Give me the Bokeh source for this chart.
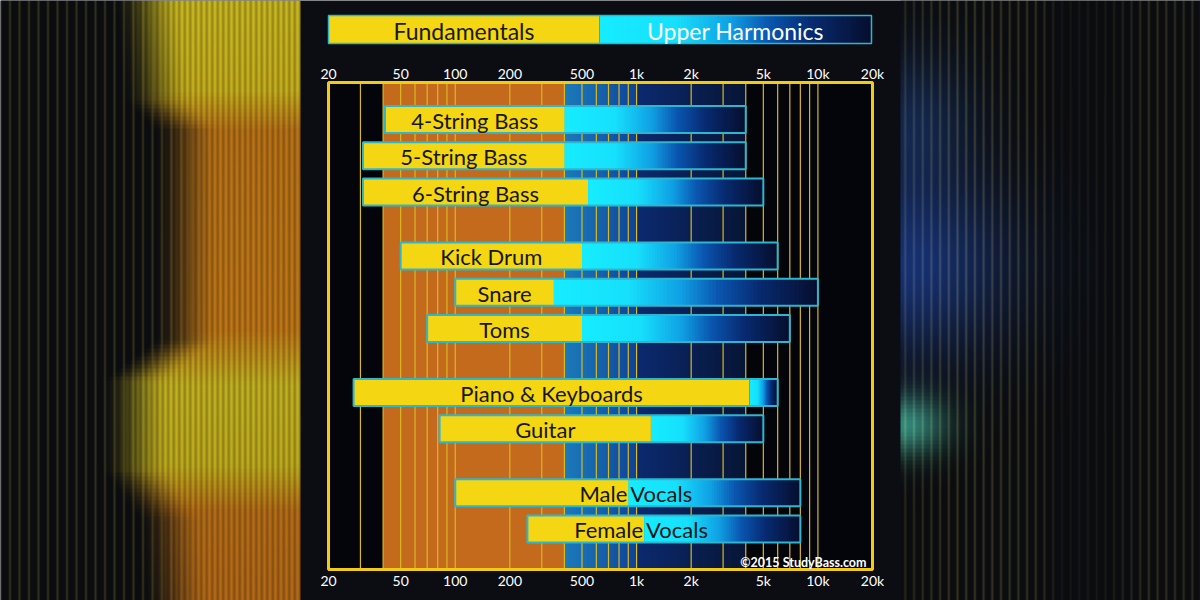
import numpy as np
from bokeh.plotting import figure
from bokeh.models import Range1d, LogScale, ColumnDataSource
from bokeh.core.properties import value
from bokeh.embed import file_html
from bokeh.resources import INLINE

# ---------------- data ----------------
instruments = ["4-String Bass", "5-String Bass", "6-String Bass",
               "Kick Drum", "Snare", "Toms",
               "Piano & Keyboards", "Guitar",
               "Male Vocals", "Female Vocals"]
group_of = [0, 0, 0, 1, 1, 1, 2, 2, 3, 3]
lowest_hz = [41, 31, 31, 50, 100, 70, 27.5, 82, 100, 250]
fundamental_top_hz = [400, 400, 540, 500, 350, 500, 4200, 1200, 900, 1100]
harmonic_top_hz = [4000, 4000, 5000, 6000, 10000, 7000, 6000, 5000, 8000, 8000]
label_at_split = [False] * 8 + [True, True]

tick_hz = [20, 50, 100, 200, 500, 1000, 2000, 5000, 10000, 20000]
tick_labels = ["20", "50", "100", "200", "500", "1k", "2k", "5k", "10k", "20k"]
grid_hz = [30, 40, 50, 60, 70, 80, 90,
           100, 200, 300, 400, 500, 600, 700, 800, 900,
           1000, 2000, 3000, 4000, 5000, 6000, 7000, 8000, 9000, 10000]
fundamental_band_hz = [40, 400]
harmonic_band_hz = [400, 4000]
legend_labels = ["Fundamentals", "Upper Harmonics"]
credit = "\u00a92015 StudyBass.com"

# ---------------- layout (pixel coordinates of the picture) ----------------
W, H = 1200, 600
AX_L, AX_R = 328, 872        # x of 20 Hz and of 20 kHz
AX_T, AX_B = 82, 569         # frame top / bottom
DEC = (AX_R - AX_L) / 3.0
ROW0, SLOT, GAP, BAR_H = 119, 36.3, 0.76, 27
LEG_L, LEG_SPLIT, LEG_R, LEG_T, LEG_B = 328, 599, 871, 15, 43
FONT = value("Lato")

YELLOW = "#f4d612"
CYAN_EDGE = "#2fb6cf"
BG = "#0b0d12"


def hz_at(px):
    return 20 * 10 ** ((px - AX_L) / DEC)


def ramp(t, stops):
    ts = [s[0] for s in stops]
    out = []
    for c in range(3):
        out.append(int(round(np.interp(t, ts, [s[1][c] for s in stops]))))
    return "#%02x%02x%02x" % tuple(out)


HARM_STOPS = [(0.0, (22, 236, 255)), (0.28, (22, 224, 252)), (0.48, (16, 160, 228)),
              (0.62, (10, 86, 176)), (0.78, (8, 42, 112)), (1.0, (6, 14, 44))]
BAND_STOPS = [(0.0, (28, 122, 184)), (0.2, (22, 98, 172)), (0.397, (14, 66, 150)),
              (0.40, (12, 42, 112)), (0.7, (10, 32, 82)), (1.0, (8, 22, 54))]

p = figure(width=W, height=H, x_range=Range1d(0, W), y_range=Range1d(H, 0),
           x_axis_type=None, y_axis_type=None, toolbar_location=None,
           output_backend="svg", min_border=0, background_fill_color=BG,
           border_fill_color=BG, outline_line_color=None)
p.extra_x_ranges = {"hz": Range1d(hz_at(0), hz_at(W))}
p.extra_x_scales = {"hz": LogScale()}


# ---------------- decorative blurred side panels ----------------
def to_rgba(r, g, b):
    h, w = r.shape
    img = np.empty((h, w), dtype=np.uint32)
    v = img.view(dtype=np.uint8).reshape((h, w, 4))
    v[:, :, 0] = np.clip(r, 0, 255)
    v[:, :, 1] = np.clip(g, 0, 255)
    v[:, :, 2] = np.clip(b, 0, 255)
    v[:, :, 3] = 255
    return img


def left_panel():
    w, h = 300, 150
    X, Y = np.meshgrid(np.arange(w) + 0.5, (np.arange(h) + 0.5) * 4)
    yy = [0, 90, 130, 330, 385, 465, 510, 600]
    wr = np.interp(Y, yy, [206, 204, 190, 196, 200, 196, 186, 184])
    wg = np.interp(Y, yy, [188, 180, 118, 122, 182, 176, 112, 108])
    wb = np.interp(Y, yy, [34, 30, 24, 24, 34, 30, 24, 24])
    edge = np.interp(Y, [0, 100, 130, 340, 380, 470, 520, 600],
                     [112, 122, 150, 150, 100, 100, 135, 140])
    m = np.clip((X - edge) / 70, 0, 1)
    m = m * m * (3 - 2 * m)
    stripe = 0.86 + 0.14 * np.cos(2 * np.pi * X / 5.5)
    dark_s = np.clip(np.cos(2 * np.pi * X / 9.5), 0, 1) ** 4 * (1 - m)
    r = 10 * (1 - m) + wr * m * stripe + 48 * dark_s
    g = 12 * (1 - m) + wg * m * stripe + 44 * dark_s
    b = 16 * (1 - m) + wb * m * stripe + 14 * dark_s
    return to_rgba(r, g, b)


def right_panel():
    w, h = 300, 150
    X, Y = np.meshgrid(900 + np.arange(w) + 0.5, (np.arange(h) + 0.5) * 4)
    k = np.interp(X, [900, 960, 1040, 1060, 1110, 1150, 1200],
                  [0.5, 0.8, 0.7, 0.2, 0.3, 0.7, 0.6])
    s = np.clip(np.cos(2 * np.pi * X / 8.7), 0, 1) ** 3 * k
    g1 = np.exp(-(((X - 905) / 100) ** 2 + ((Y - 265) / 90) ** 2))
    g2 = np.exp(-(((X - 910) / 60) ** 2 + ((Y - 120) / 70) ** 2))
    g3 = np.exp(-(((X - 903) / 40) ** 2 + ((Y - 425) / 30) ** 2))
    r = 10 + 66 * s + 12 * g1 + 8 * g2 + 40 * g3
    g = 12 + 58 * s + 36 * g1 + 24 * g2 + 120 * g3
    b = 16 + 22 * s + 96 * g1 + 54 * g2 + 100 * g3
    return to_rgba(r, g, b)


p.image_rgba(image=[left_panel()], x=0, y=0, dw=300, dh=600)
p.image_rgba(image=[right_panel()], x=900, y=0, dw=300, dh=600)

# ---------------- legend bar ----------------
p.quad(left=LEG_L, right=LEG_SPLIT, top=LEG_T, bottom=LEG_B,
       fill_color=YELLOW, line_color=None)
n_leg = 90
leg_edges = np.linspace(LEG_SPLIT, LEG_R, n_leg + 1)
leg_cols = [ramp((i + 0.5) / n_leg, HARM_STOPS) for i in range(n_leg)]
# each slice runs to the bar end; later slices cover earlier ones (no seams)
p.quad(left=leg_edges[:-1], right=LEG_R, top=LEG_T, bottom=LEG_B,
       fill_color=leg_cols, line_color=None)
p.quad(left=LEG_L, right=LEG_R, top=LEG_T, bottom=LEG_B,
       fill_color=None, line_color=CYAN_EDGE, line_width=1.5)
p.text(x=[(LEG_L + LEG_SPLIT) / 2, (LEG_SPLIT + LEG_R) / 2],
       y=[(LEG_T + LEG_B) / 2 + 1] * 2, text=legend_labels,
       text_color=["#1a1a14", "#ffffff"], text_font=FONT,
       text_font_size="23px", text_align="center", text_baseline="middle")

# ---------------- chart frame background & bands ----------------
p.quad(left=20, right=20000, top=AX_T, bottom=AX_B, x_range_name="hz",
       fill_color="#03050a", line_color=None)
p.quad(left=fundamental_band_hz[0], right=fundamental_band_hz[1],
       top=AX_T, bottom=AX_B, x_range_name="hz",
       fill_color="#c46a1c", line_color=None)
n_band = 120
b_edges = np.geomspace(harmonic_band_hz[0], harmonic_band_hz[1], n_band + 1)
b_cols = [ramp((i + 0.5) / n_band, BAND_STOPS) for i in range(n_band)]
p.quad(left=b_edges[:-1], right=harmonic_band_hz[1], top=AX_T, bottom=AX_B,
       x_range_name="hz", fill_color=b_cols, line_color=None)

p.segment(x0=grid_hz, y0=AX_T, x1=grid_hz, y1=AX_B, x_range_name="hz",
          line_color="#d9b826", line_width=1.2)

# ---------------- bars ----------------
row_y = [ROW0 + SLOT * (i + GAP * g) for i, g in enumerate(group_of)]
tops = [y - BAR_H / 2 for y in row_y]
bots = [y + BAR_H / 2 for y in row_y]

p.quad(left=lowest_hz, right=fundamental_top_hz, top=tops, bottom=bots,
       x_range_name="hz", fill_color=YELLOW, line_color=None)

hl, hr, ht, hb, hc = [], [], [], [], []
n_seg = 70
for i in range(len(instruments)):
    e = np.geomspace(fundamental_top_hz[i], harmonic_top_hz[i], n_seg + 1)
    for j in range(n_seg):
        hl.append(e[j])
        hr.append(harmonic_top_hz[i])
        ht.append(tops[i]); hb.append(bots[i])
        hc.append(ramp((j + 0.5) / n_seg, HARM_STOPS))
p.quad(source=ColumnDataSource(dict(l=hl, r=hr, t=ht, b=hb, c=hc)),
       left="l", right="r", top="t", bottom="b", x_range_name="hz",
       fill_color="c", line_color=None)

p.quad(left=lowest_hz, right=harmonic_top_hz, top=tops, bottom=bots,
       x_range_name="hz", fill_color=None, line_color=CYAN_EDGE, line_width=2)

# labels
cx, cy, ct = [], [], []
lx, ly, lt, rx, ry, rt = [], [], [], [], [], []
for i, name in enumerate(instruments):
    if label_at_split[i]:
        a, b = name.split(" ", 1)
        lx.append(fundamental_top_hz[i]); ly.append(row_y[i] + 1); lt.append(a)
        rx.append(fundamental_top_hz[i]); ry.append(row_y[i] + 1); rt.append(b)
    else:
        cx.append(np.sqrt(lowest_hz[i] * fundamental_top_hz[i]))
        cy.append(row_y[i] + 1); ct.append(name)
common = dict(x_range_name="hz", text_color="#161616", text_font=FONT,
              text_font_size="22px", text_baseline="middle")
p.text(x=cx, y=cy, text=ct, text_align="center", **common)
p.text(x=lx, y=ly, text=lt, text_align="right", x_offset=-1, **common)
p.text(x=rx, y=ry, text=rt, text_align="left", x_offset=2, **common)

# ---------------- frame & tick labels ----------------
p.quad(left=20, right=20000, top=AX_T, bottom=AX_B, x_range_name="hz",
       fill_color=None, line_color="#f2cc14", line_width=3)
for ty in (73, 580):
    p.text(x=tick_hz, y=[ty] * len(tick_hz), text=tick_labels, x_range_name="hz",
           text_color="#ffffff", text_font=FONT, text_font_size="14px",
           text_align="center", text_baseline="middle")

p.text(x=[866], y=[562], text=[credit], text_color="#ffffff", text_font=FONT,
       text_font_size="12.5px", text_font_style="bold", text_align="right",
       text_baseline="middle")

html = file_html(p, INLINE, title="Instrument frequency ranges")
html = html.replace("<body>", '<body style="background:%s">' % BG, 1)
open("out.html", "w").write(html)
